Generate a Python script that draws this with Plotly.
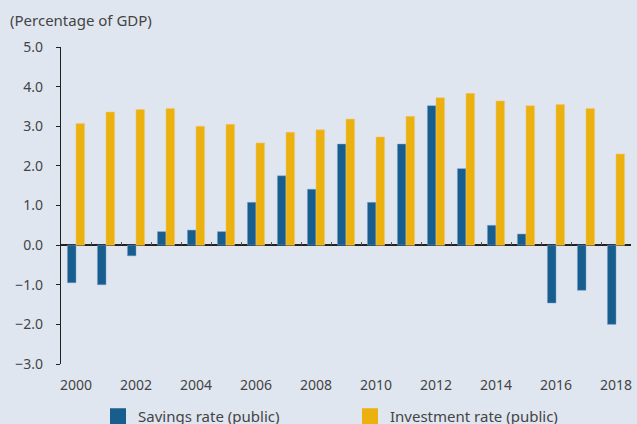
import plotly.graph_objects as go

years = [str(y) for y in range(2000, 2019)]
savings = [-0.95, -1.0, -0.27, 0.34, 0.38, 0.34, 1.08, 1.75, 1.41, 2.55, 1.08, 2.55,
           3.52, 1.93, 0.50, 0.28, -1.46, -1.14, -2.0]
investment = [3.07, 3.36, 3.42, 3.45, 3.0, 3.05, 2.58, 2.85, 2.91, 3.18, 2.73, 3.25,
              3.72, 3.83, 3.64, 3.52, 3.55, 3.45, 2.30]
x_ticks = [str(y) for y in range(2000, 2019, 2)]
y_ticks = [-3, -2, -1, 0, 1, 2, 3, 4, 5]
series_names = ["Savings rate (public)", "Investment rate (public)"]

BG = "#e0e6f0"
BLUE = "#175e8e"
GOLD = "#ebb10f"
TXT = "#444444"
FONT = "Noto Sans"

fig = go.Figure()
fig.add_trace(go.Bar(x=years, y=savings, name=series_names[0], showlegend=False,
                     marker=dict(color=BLUE, line=dict(color="rgba(120,160,200,0.6)", width=0.8))))
fig.add_trace(go.Bar(x=years, y=investment, name=series_names[1], showlegend=False,
                     marker=dict(color=GOLD, line=dict(color="rgba(240,200,120,0.7)", width=0.8))))

# legend entries with larger square symbols
for name, col in zip(series_names, [BLUE, GOLD]):
    fig.add_trace(go.Scatter(x=[None], y=[None], mode="markers", name=name,
                             marker=dict(symbol="square", size=16, color=col), hoverinfo="skip"))

# invisible trace on overlay axis for boundary ticks at zero line
fig.add_trace(go.Bar(x=years, y=[None]*len(years), xaxis="x2", showlegend=False, hoverinfo="skip"))

top, bottom, left, right = 47, 60, 61, 6
H, W = 424, 637
ymin, ymax = -3, 5
plot_h = H - top - bottom
plot_w = W - left - right
zero_pos = (0 - ymin) / (ymax - ymin)

fig.update_layout(
    width=W, height=H,
    margin=dict(l=left, r=right, t=top, b=bottom, autoexpand=False),
    paper_bgcolor=BG, plot_bgcolor=BG,
    font=dict(family=FONT, color=TXT, size=14),
    barmode="group", bargap=0.43, bargroupgap=0,
    showlegend=True,
    legend=dict(orientation="h", x=(98 - left) / plot_w, y=-(400 - (H - bottom)) / plot_h,
                xanchor="left", yanchor="top",
                font=dict(size=15, color=TXT), entrywidth=207, entrywidthmode="pixels",
                itemwidth=30, bgcolor="rgba(0,0,0,0)", traceorder="normal"),
    annotations=[dict(text="(Percentage of GDP)", xref="paper", yref="paper",
                      x=(8 - left) / plot_w, y=1 + (top - 20) / plot_h,
                      xanchor="left", yanchor="middle",
                      showarrow=False, font=dict(size=15, color=TXT))],
    xaxis=dict(type="category", tickmode="array", tickvals=x_ticks, ticktext=x_ticks,
               showgrid=False, showline=False, ticks="outside", ticklen=8,
               tickcolor="rgba(0,0,0,0)", tickfont=dict(size=14, color=TXT),
               zeroline=False),
    xaxis2=dict(type="category", overlaying="x", anchor="free", position=zero_pos,
                matches="x", showticklabels=False, ticks="inside", ticklen=3, tickwidth=1,
                tickcolor="#555555", tickson="boundaries", showgrid=False, showline=False),
    yaxis=dict(range=[ymin, ymax], tickvals=y_ticks, tickformat=".1f",
               showgrid=False, showline=True, linecolor="#222222", linewidth=1.3,
               ticks="outside", ticklen=4, tickcolor="#222222",
               ticklabelstandoff=10, tickfont=dict(size=14, color=TXT),
               zeroline=True, zerolinecolor="#222222", zerolinewidth=1.6),
)

fig.write_html("out.html", config={"displayModeBar": False},
               post_script="document.body.style.margin='0';")
